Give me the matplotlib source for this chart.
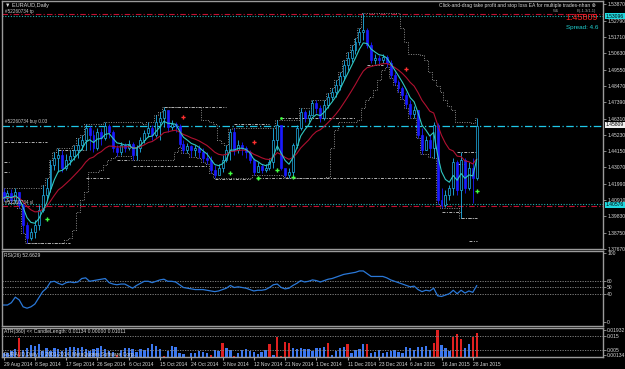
import matplotlib
matplotlib.use("Agg")
import matplotlib.pyplot as plt
import numpy as np
import pandas as pd

plt.rcParams['font.family'] = ['Liberation Sans', 'DejaVu Sans']

W, H = 625, 369

# EURAUD daily bars (index 0 = 29 Aug 2014)
first_open = 1.4144
close = [1.4104, 1.4138, 1.4091, 1.4144, 1.4058, 1.3926, 1.3839, 1.3880, 1.3926, 1.4024,
         1.4124, 1.4171, 1.4323, 1.4370, 1.4389, 1.4303, 1.4356, 1.4383, 1.4423, 1.4456,
         1.4490, 1.4569, 1.4523, 1.4436, 1.4542, 1.4503, 1.4582, 1.4542, 1.4436, 1.4409,
         1.4456, 1.4436, 1.4462, 1.4389, 1.4436, 1.4490, 1.4536, 1.4569, 1.4523, 1.4608,
         1.4634, 1.4687, 1.4575, 1.4595, 1.4582, 1.4462, 1.4423, 1.4449, 1.4423, 1.4436,
         1.4409, 1.4370, 1.4356, 1.4290, 1.4257, 1.4303, 1.4356, 1.4423, 1.4542, 1.4423,
         1.4456, 1.4436, 1.4409, 1.4356, 1.4277, 1.4317, 1.4290, 1.4303, 1.4343, 1.4490,
         1.4588, 1.4303, 1.4257, 1.4277, 1.4456, 1.4569, 1.4674, 1.4634, 1.4654, 1.4734,
         1.4701, 1.4634, 1.4720, 1.4774, 1.4807, 1.4853, 1.4913, 1.4986, 1.5032, 1.5085,
         1.5138, 1.5204, 1.5217, 1.5118, 1.5019, 1.5032, 1.5019, 1.5039, 1.4999, 1.4919,
         1.4873, 1.4833, 1.4787, 1.4727, 1.4661, 1.4687, 1.4523, 1.4423, 1.4490, 1.4436,
         1.4588, 1.4091, 1.4058, 1.4124, 1.4171, 1.4343, 1.4158, 1.4356, 1.4171, 1.4303,
         1.4237, 1.45809]
high = [1.4171, 1.4158, 1.4164, 1.4171, 1.4144, 1.4071, 1.3946, 1.3906, 1.3959, 1.4058,
        1.4191, 1.4237, 1.4356, 1.4409, 1.4436, 1.4423, 1.4396, 1.4423, 1.4456, 1.4503,
        1.4523, 1.4595, 1.4582, 1.4555, 1.4569, 1.4569, 1.4608, 1.4595, 1.4555, 1.4456,
        1.4476, 1.4469, 1.4490, 1.4476, 1.4456, 1.4509, 1.4555, 1.4608, 1.4588, 1.4654,
        1.4674, 1.4707, 1.4621, 1.4621, 1.4608, 1.4595, 1.4490, 1.4469, 1.4456, 1.4456,
        1.4456, 1.4436, 1.4409, 1.4383, 1.4323, 1.4330, 1.4389, 1.4456, 1.4562, 1.4569,
        1.4490, 1.4476, 1.4449, 1.4423, 1.4370, 1.4343, 1.4330, 1.4330, 1.4370, 1.4569,
        1.4621, 1.4569, 1.4290, 1.4303, 1.4469, 1.4588, 1.4701, 1.4687, 1.4687, 1.4754,
        1.4754, 1.4720, 1.4754, 1.4800, 1.4833, 1.4886, 1.4939, 1.5019, 1.5072, 1.5118,
        1.5164, 1.5231, 1.5330, 1.5231, 1.5138, 1.5058, 1.5052, 1.5058, 1.5052, 1.5019,
        1.4939, 1.4886, 1.4846, 1.4807, 1.4754, 1.4714, 1.4687, 1.4569, 1.4515, 1.4523,
        1.4608, 1.4601, 1.4171, 1.4158, 1.4191, 1.4370, 1.4356, 1.4409, 1.4370, 1.4343,
        1.4370, 1.4634]
low = [1.4084, 1.4091, 1.4071, 1.4071, 1.4038, 1.3873, 1.3806, 1.3826, 1.3839, 1.3893,
       1.4011, 1.4091, 1.4144, 1.4290, 1.4277, 1.4277, 1.4290, 1.4323, 1.4356, 1.4370,
       1.4423, 1.4423, 1.4423, 1.4409, 1.4423, 1.4456, 1.4490, 1.4503, 1.4409, 1.4383,
       1.4389, 1.4409, 1.4423, 1.4356, 1.4356, 1.4409, 1.4469, 1.4509, 1.4490, 1.4509,
       1.4490, 1.4575, 1.4542, 1.4555, 1.4542, 1.4442, 1.4403, 1.4403, 1.4376, 1.4383,
       1.4370, 1.4343, 1.4330, 1.4270, 1.4237, 1.4283, 1.4277, 1.4343, 1.4356, 1.4389,
       1.4403, 1.4389, 1.4370, 1.4337, 1.4257, 1.4277, 1.4270, 1.4277, 1.4290, 1.4303,
       1.4423, 1.4290, 1.4244, 1.4237, 1.4244, 1.4436, 1.4555, 1.4608, 1.4608, 1.4654,
       1.4667, 1.4608, 1.4621, 1.4701, 1.4754, 1.4774, 1.4820, 1.4886, 1.4952, 1.5005,
       1.5058, 1.5118, 1.5151, 1.5098, 1.4999, 1.4992, 1.4992, 1.4999, 1.4972, 1.4899,
       1.4853, 1.4807, 1.4760, 1.4701, 1.4634, 1.4634, 1.4503, 1.4396, 1.4423, 1.4376,
       1.4370, 1.4064, 1.4038, 1.4044, 1.4091, 1.4124, 1.4124, 1.3972, 1.4138, 1.4158,
       1.4071, 1.4224]

rsi = [24.6, 24.6, 28, 36, 32, 22, 20, 22, 26, 35,
       44, 49, 58, 59, 56, 54, 57, 58, 57, 58,
       63, 64, 59, 60, 61, 62, 63, 57, 55, 54,
       55, 55, 52, 49, 53, 56, 59, 59, 57, 59,
       61, 62, 59, 59, 58, 54, 50, 49, 48, 47,
       47, 47, 46, 45, 44, 45, 47, 49, 53, 50,
       51, 50, 49, 47, 45, 46, 46, 47, 50, 54,
       55, 50, 48, 49, 53, 56, 60, 58, 59, 61,
       60, 58, 60, 62, 63, 65, 67, 69, 70, 71,
       72, 74, 74, 70, 66, 66, 66, 66, 64, 61,
       59, 57, 55, 53, 51, 52, 47, 44, 46, 45,
       49, 38, 37, 39, 41, 46, 41, 46, 42, 45,
       43, 52.66]

atr = [26, 31, 45, 55, 133, 50, 62, 86, 79, 93,
       45, 62, 45, 62, 55, 45, 62, 74, 69, 62,
       69, 55, 45, 55, 62, 79, 55, 45, 38, 14,
       50, 62, 62, 55, 38, 55, 50, 62, 93, 79,
       55, 7, 45, 79, 74, 31, 21, 2, 26, 31,
       45, 38, 26, 14, 50, 45, 102, 62, 50, 7,
       26, 50, 55, 45, 38, 21, 38, 50, 93, 14,
       145, 7, 110, 98, 62, 55, 62, 55, 55, 45,
       62, 62, 69, 98, 14, 45, 62, 74, 93, 31,
       50, 55, 93, 93, 31, 38, 50, 31, 38, 45,
       50, 38, 31, 69, 62, 50, 69, 74, 79, 50,
       98, 193, 86, 62, 45, 140, 164, 126, 62, 93,
       140, 169]  # x 1e-4
atr_red = [4, 29, 41, 47, 53, 56, 59, 68, 70, 71, 72, 73, 83, 88, 93, 110, 111,
           115, 116, 117, 120, 121]

date_labels = ["29 Aug 2014", "8 Sep 2014", "17 Sep 2014", "26 Sep 2014", "6 Oct 2014",
               "15 Oct 2014", "24 Oct 2014", "3 Nov 2014", "12 Nov 2014", "21 Nov 2014",
               "1 Dec 2014", "11 Dec 2014", "23 Dec 2014", "6 Jan 2015", "16 Jan 2015",
               "28 Jan 2015"]
price_ticks = [1.53870, 1.52790, 1.51710, 1.50630, 1.49550, 1.48470, 1.47390, 1.46310,
               1.45230, 1.44150, 1.43070, 1.41990, 1.40910, 1.39830, 1.38750, 1.37670]

buy_price = 1.45809
tp_price, tp_price2 = 1.5310, 1.5323
sl_price, sl_price2 = 1.4064, 1.4051

# support / resistance segments: level, first bar, last bar
seg_level = [1.4476, 1.4343, 1.4277, 1.3806, 1.4423, 1.4237, 1.4356, 1.4317, 1.4707,
             1.4230, 1.4595, 1.4237, 1.4634, 1.4986, 1.4409, 1.4330, 1.4011, 1.3972, 1.3819]
seg_start = [0, 0, 0, 6, 14, 21, 29, 33, 41, 54, 59, 65, 71, 93, 116, 116, 112, 117, 119]
seg_end = [11, 1.5, 1.5, 17, 21, 27, 32, 52, 57, 63, 68, 109, 90, 97, 121, 118, 117, 121, 121]

up_x = [11, 58, 65, 70, 74, 121]
up_y = [1.3965, 1.4270, 1.4237, 1.4290, 1.4244, 1.4151]
dn_x = [46, 64, 103]
dn_y = [1.4641, 1.4475, 1.4959]
dot_x = [65, 71]
dot_y = [1.4237, 1.4634]

n = len(close)
idx = np.arange(n)
opens = [first_open] + close[:-1]

fig = plt.figure(figsize=(W / 100, H / 100), dpi=100, facecolor="black")


def axes_px(x0, y0, x1, y1):
    return fig.add_axes([x0 / W, 1 - y1 / H, (x1 - x0) / W, (y1 - y0) / H])


ax = axes_px(2, 1, 603, 249)
ax_rsi = axes_px(2, 251, 603, 326)
ax_atr = axes_px(2, 328, 603, 357)

frame = "#9a9a9a"
txt = "#d8d8d8"
for a in (ax, ax_rsi, ax_atr):
    a.set_facecolor("black")
    for s in a.spines.values():
        s.set_color(frame)
        s.set_linewidth(1.0)
    a.set_xlim(-0.4, 153.3)
    a.yaxis.tick_right()
    a.tick_params(axis="y", colors=frame, labelcolor=txt, labelsize=3.6, length=2,
                  width=0.6, pad=1)
    a.tick_params(axis="x", length=0)
    a.set_xticks([])

# ---- price panel
ax.set_ylim(1.37663, 1.5410)
ax.set_yticks(price_ticks)
ax.set_yticklabels([f"{v:.5f}" for v in price_ticks])

s_high = pd.Series(high)
s_low = pd.Series(low)
don_hi = s_high.rolling(10, min_periods=1).max()
don_lo = s_low.rolling(10, min_periods=1).min()
ax.plot(idx, don_hi, color="#8c8c8c", lw=0.7, ls=(0, (1, 1.5)), drawstyle="steps-mid")
ax.plot(idx, don_lo, color="#8c8c8c", lw=0.7, ls=(0, (1, 1.5)), drawstyle="steps-mid")

for lv, a0, a1 in zip(seg_level, seg_start, seg_end):
    ax.plot([a0, a1], [lv, lv], color="#b4b4b4", lw=0.7, ls=(0, (3, 1.5, 1, 1.5)))

ax.axhline(buy_price, color="#20c8e8", lw=0.9, ls=(0, (6, 2, 1, 2)))
ax.axhline(tp_price2, color="#c01030", lw=0.8, ls=(0, (5, 2, 1, 2)))
ax.axhline(tp_price, color="#20b0b0", lw=0.8, ls=(0, (1, 1.5)))
ax.axhline(sl_price, color="#20b0b0", lw=0.8, ls=(0, (1, 1.5)))
ax.axhline(sl_price2, color="#c01030", lw=0.8, ls=(0, (5, 2, 1, 2)))

bull_c = "#22b4ec"
bear_c = "#1a1aff"
for i in range(n):
    o, c = opens[i], close[i]
    col = bull_c if c >= o else bear_c
    ax.vlines(i, low[i], high[i], color=col, lw=0.6, zorder=3)
    b0, b1 = min(o, c), max(o, c)
    if b1 - b0 < 0.0002:
        b1 = b0 + 0.0002
    ax.bar(i, b1 - b0, bottom=b0, width=0.5,
           facecolor="black" if c >= o else bear_c, edgecolor=col, lw=0.5, zorder=4)

ema_fast = pd.Series(close).ewm(span=5, adjust=False).mean()
ema_slow = pd.Series(close).ewm(span=14, adjust=False).mean()
ax.plot(idx, ema_slow, color="#b01030", lw=0.8, zorder=5)
ax.plot(idx, ema_fast, color="#30c8c0", lw=0.8, zorder=6)

ax.plot(up_x, up_y, ls="none", marker="P", ms=3, color="#40ff40", mew=0, zorder=7)
ax.plot(dn_x, dn_y, ls="none", marker="P", ms=3, color="#ff3030", mew=0, zorder=7)
ax.plot(dot_x, dot_y, ls="none", marker="o", ms=2, color="#40ff40", mew=0, zorder=7)

# ---- RSI panel
ax_rsi.set_ylim(-5.8, 102.9)
ax_rsi.set_yticks([100, 60, 50, 40, 0])
for lv in (60, 50, 40):
    ax_rsi.axhline(lv, color="#8c8c8c", lw=0.6, ls=(0, (1.5, 1.5)))
ax_rsi.plot(idx, rsi, color="#2a78d8", lw=0.9)

# ---- candle length panel
atr_v = np.array(atr) * 1e-4
atr_col = ["#e02020" if i in atr_red else "#3c78f0" for i in range(n)]
ax_atr.set_ylim(0, 0.0207)
ax_atr.bar(idx, atr_v, width=0.6, color=atr_col)
for lv in (0.015, 0.005):
    ax_atr.axhline(lv, color="#8c8c8c", lw=0.6, ls=(0, (1.5, 1.5)))
ax_atr.set_yticks([0.0193, 0.015, 0.005, 0.0013])
ax_atr.set_yticklabels(["0.01932", "0.015", "0.005", "0.00134"])
ax_atr.set_xticks(idx[::8])
ax_atr.set_xticklabels(date_labels, ha="left")
ax_atr.tick_params(axis="x", length=2, colors=frame, labelcolor=txt, labelsize=3.6, pad=1.5)


# ---- texts
def ftext(x, y, s, **kw):
    fig.text(x / W, 1 - y / H, s, va="center", **kw)


ftext(5, 5, "\u25bc EURAUD,Daily", color=txt, fontsize=4)
ftext(5, 12, "#52260734 tp", color="#c8c8c8", fontsize=3.3)
ftext(596, 5, "Click-and-drag take profit and stop loss EA for multiple trades-nhan \u2297",
      color=txt, fontsize=3.6, ha="right")
ftext(553, 11, "W1", color="#a0a0a0", fontsize=3)
ftext(596, 11, "B(-1.3/1.1)", color="#a0a0a0", fontsize=3, ha="right")
ftext(598, 18, "1.45809", color="#ff2020", fontsize=6.5, ha="right")
ftext(598, 27, "Spread: 4.6", color="#20d0d0", fontsize=4.5, ha="right")
ftext(5, 121, "#52260734 buy 0.03", color="#c8c8c8", fontsize=3.3)
ftext(5, 202, "#52260734 sl", color="#c8c8c8", fontsize=3.3)
ftext(4, 255, "RSI(26) 52.6629", color=txt, fontsize=3.6)
ftext(4, 331, "ATR(360) << CandleLength: 0.01134 0.00000 0.01011", color=txt, fontsize=3.6)
ftext(4, 354, "EURAUD,Daily, \u00a9 2001-2014, MetaQuotes Software Corp.", color=txt,
      fontsize=3.6)

box = dict(boxstyle="square,pad=0.15", lw=0)
ftext(606, 16, "1.53096", color="black", fontsize=3.6,
      bbox=dict(box, facecolor="#20d8e0"))
ftext(606, 125, "1.45809", color="black", fontsize=3.6,
      bbox=dict(box, facecolor="#f0f0f0"))
ftext(606, 205, "1.40576", color="black", fontsize=3.6,
      bbox=dict(box, facecolor="#20d8e0"))

fig.savefig("out.png", dpi=100, facecolor="black")
